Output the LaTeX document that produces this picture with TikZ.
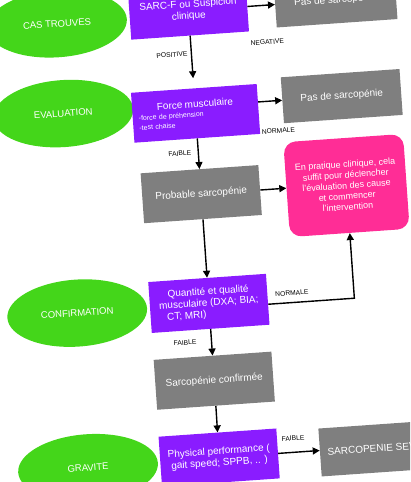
\documentclass[tikz,border=0pt]{standalone}
\usepackage{fontspec}
\setmainfont{Liberation Sans}
\usetikzlibrary{positioning,shapes.geometric,arrows.meta}
\definecolor{phasegreen}{HTML}{44D61A}
\definecolor{stepviolet}{HTML}{8A1CFF}
\definecolor{resultgrey}{HTML}{7F7F7F}
\definecolor{notepink}{HTML}{FF2D96}

\begin{document}
\begin{tikzpicture}[
  x=1pt, y=-1pt,
  phase/.style={ellipse, fill=phasegreen, minimum width=140pt, minimum height=67pt,
                text=white, font=\fontsize{9.5}{11}\selectfont},
  stepbox/.style={fill=stepviolet, minimum width=118pt, minimum height=50pt,
                  inner sep=0pt, text=white, align=center,
                  font=\fontsize{10}{11.5}\selectfont},
  result/.style={fill=resultgrey, minimum width=119pt, minimum height=46pt,
                 text=white, font=\fontsize{10}{12}\selectfont},
  note/.style={fill=notepink, rounded corners=12pt, minimum width=120pt,
               minimum height=95pt, text=white, align=center,
               font=\fontsize{9}{10.7}\selectfont},
  lbl/.style={font=\fontsize{6.7}{7}\selectfont, inner sep=0pt},
  arr/.style={-{Triangle[length=7pt,width=7pt]}, line width=1.4pt}
]
  \useasboundingbox (0,0) rectangle (410,482);
  \clip (0,0) rectangle (410,482);
  \begin{scope}[rotate around={4:(205,241)}, transform shape]
  % Phases
  \node[phase] (cas)     at (72.5,14)  {CAS TROUVES};
  \node[phase] (eval)    at (72.5,104) {EVALUATION};
  \node[phase] (confirm) at (72.5,304) {CONFIRMATION};
  \node[phase] (grav)    at (72.5,459) {GRAVITE};

  % Main column
  \node[stepbox] (sarc) at (204.5,10) {SARC-F ou Suspicion\\clinique};
  \node[stepbox, minimum width=126pt, text width=114pt, align=left,
        font=\fontsize{7}{9.5}\selectfont] (force) at (204.5,113)
        {\makebox[114pt]{\fontsize{10}{12}\selectfont Force musculaire}\\
         -force de préhension\\-test chaise};
  \node[result, minimum width=118pt, minimum height=50pt] (prob) at (204.5,194)
        {Probable sarcopénie};
  \node[stepbox, minimum height=51pt] (qual) at (204.5,303.5)
        {Quantité et qualité\\musculaire (DXA; BIA;\\\makebox[85pt][l]{CT; MRI)}};
  \node[result, minimum width=118pt, minimum height=50pt] (conf) at (204.5,381)
        {Sarcopénie confirmée};
  \node[stepbox] (perf) at (204,458) {Physical performance (\\gait speed; SPPB, .. )};

  % Right column
  \node[result, minimum width=121pt] (pas1) at (352,10)    {Pas de sarcopénie};
  \node[result] (pas2) at (351.5,106) {Pas de sarcopénie};
  \node[note] (pink) at (350,195.5)
        {En pratique clinique, cela\\suffit pour déclencher\\l'évaluation des cause\\et commencer\\l'intervention};
  \node[result, minimum width=124pt, minimum height=48pt] (sev) at (367,460)
        {SARCOPENIE SEVERE};

  % Connectors
  \draw[arr, shorten >=10pt] (sarc) -- (force);
  \draw[arr] (sarc) -- (pas1);
  \draw[arr] (force.east |- pas2.west) -- (pas2.west);
  \draw[arr] (force) -- (prob);
  \draw[arr] (prob.east) -- (prob.east -| pink.west);
  \draw[arr] (prob) -- (qual);
  \draw[arr] ([yshift=-5pt]qual.east) -| (pink.south);
  \draw[arr] (qual) -- (conf);
  \draw[arr] (conf) -- (perf);
  \draw[arr] (perf.east) -- (perf.east -| sev.west);

  % Labels
  \node[lbl] (lpositive) at (185,53)  {POSITIVE};
  \node[lbl] (lnegative) at (281,47)  {NEGATIVE};
  \node[lbl] (lnormal)   at (286,136) {NORMALE};
  \node[lbl] (lfaible)   at (186,152) {FAIBLE};
  \node[lbl] (lnormalb)  at (288,299) {NORMALE};
  \node[lbl] (lfaibleb)  at (178,341) {FAIBLE};
  \node[lbl] (lfaiblec)  at (279,444) {FAIBLE};
  \end{scope}
\end{tikzpicture}
\end{document}
